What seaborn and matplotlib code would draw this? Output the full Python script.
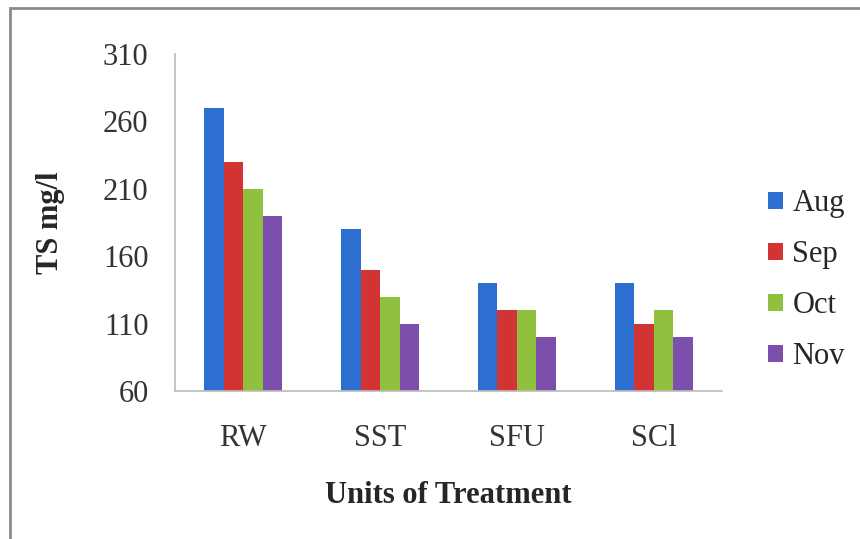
import numpy as np
import pandas as pd
import matplotlib
matplotlib.use("Agg")
import matplotlib.pyplot as plt
import matplotlib.patches as mpatches
import seaborn as sns

# ---------- DATA ----------
units = ["RW", "SST", "SFU", "SCl"]
months = ["Aug", "Sep", "Oct", "Nov"]
aug = [270, 180, 140, 140]
sep = [230, 150, 120, 110]
oct_ = [210, 130, 120, 120]
nov = [190, 110, 100, 100]
y_ticks = [60, 110, 160, 210, 260, 310]
colors = ["#2C6FD0", "#D23333", "#8FC13E", "#7C4FAC"]
# --------------------------

sns.set_style("white")
plt.rcParams['font.family'] = ['Liberation Serif', 'DejaVu Serif']

df = pd.DataFrame({
    "unit": units * 4,
    "month": [m for m in months for _ in units],
    "ts": aug + sep + oct_ + nov,
})

fig = plt.figure(figsize=(8.6, 5.39), dpi=100)
ax = fig.add_axes([0.2035, 0.2746, 0.636, 0.6252])

sns.barplot(data=df, x="unit", y="ts", hue="month", hue_order=months,
            palette=colors, width=0.57, gap=0, saturation=1, ax=ax,
            edgecolor="none", legend=False)

ax.set_ylim(60, 310)
ax.set_yticks(y_ticks)
ax.set_xlim(-0.5, 3.5)
ax.tick_params(axis="y", labelsize=22, length=5, color="#BBBBBB", pad=14)
ax.tick_params(axis="x", labelsize=22, length=0, pad=24)
for t in ax.get_xticklabels() + ax.get_yticklabels():
    t.set_color("#333333")
ax.set_ylabel("TS mg/l", fontsize=22, fontweight="bold", labelpad=27)
ax.set_xlabel("Units of Treatment", fontsize=22, fontweight="bold", labelpad=20)

for s in ["top", "right"]:
    ax.spines[s].set_visible(False)
for s in ["left", "bottom"]:
    ax.spines[s].set_color("#BBBBBB")
    ax.spines[s].set_linewidth(1.2)

handles = [mpatches.Patch(facecolor=c, edgecolor="none", label=m)
           for c, m in zip(colors, months)]
fig.legend(handles=handles, loc="center left", bbox_to_anchor=(0.893, 0.48),
           frameon=False, fontsize=22, handlelength=0.5, handleheight=0.5,
           handletextpad=0.3, labelspacing=0.72, borderpad=0, borderaxespad=0)

# outer chart frame
frame = mpatches.Rectangle((10 / 860, -0.05), 1.0, 1 - 8 / 539 + 0.05,
                           transform=fig.transFigure, fill=False,
                           edgecolor="#8A8A8A", linewidth=2.0)
fig.patches.append(frame)

fig.savefig("out.png", dpi=100)
